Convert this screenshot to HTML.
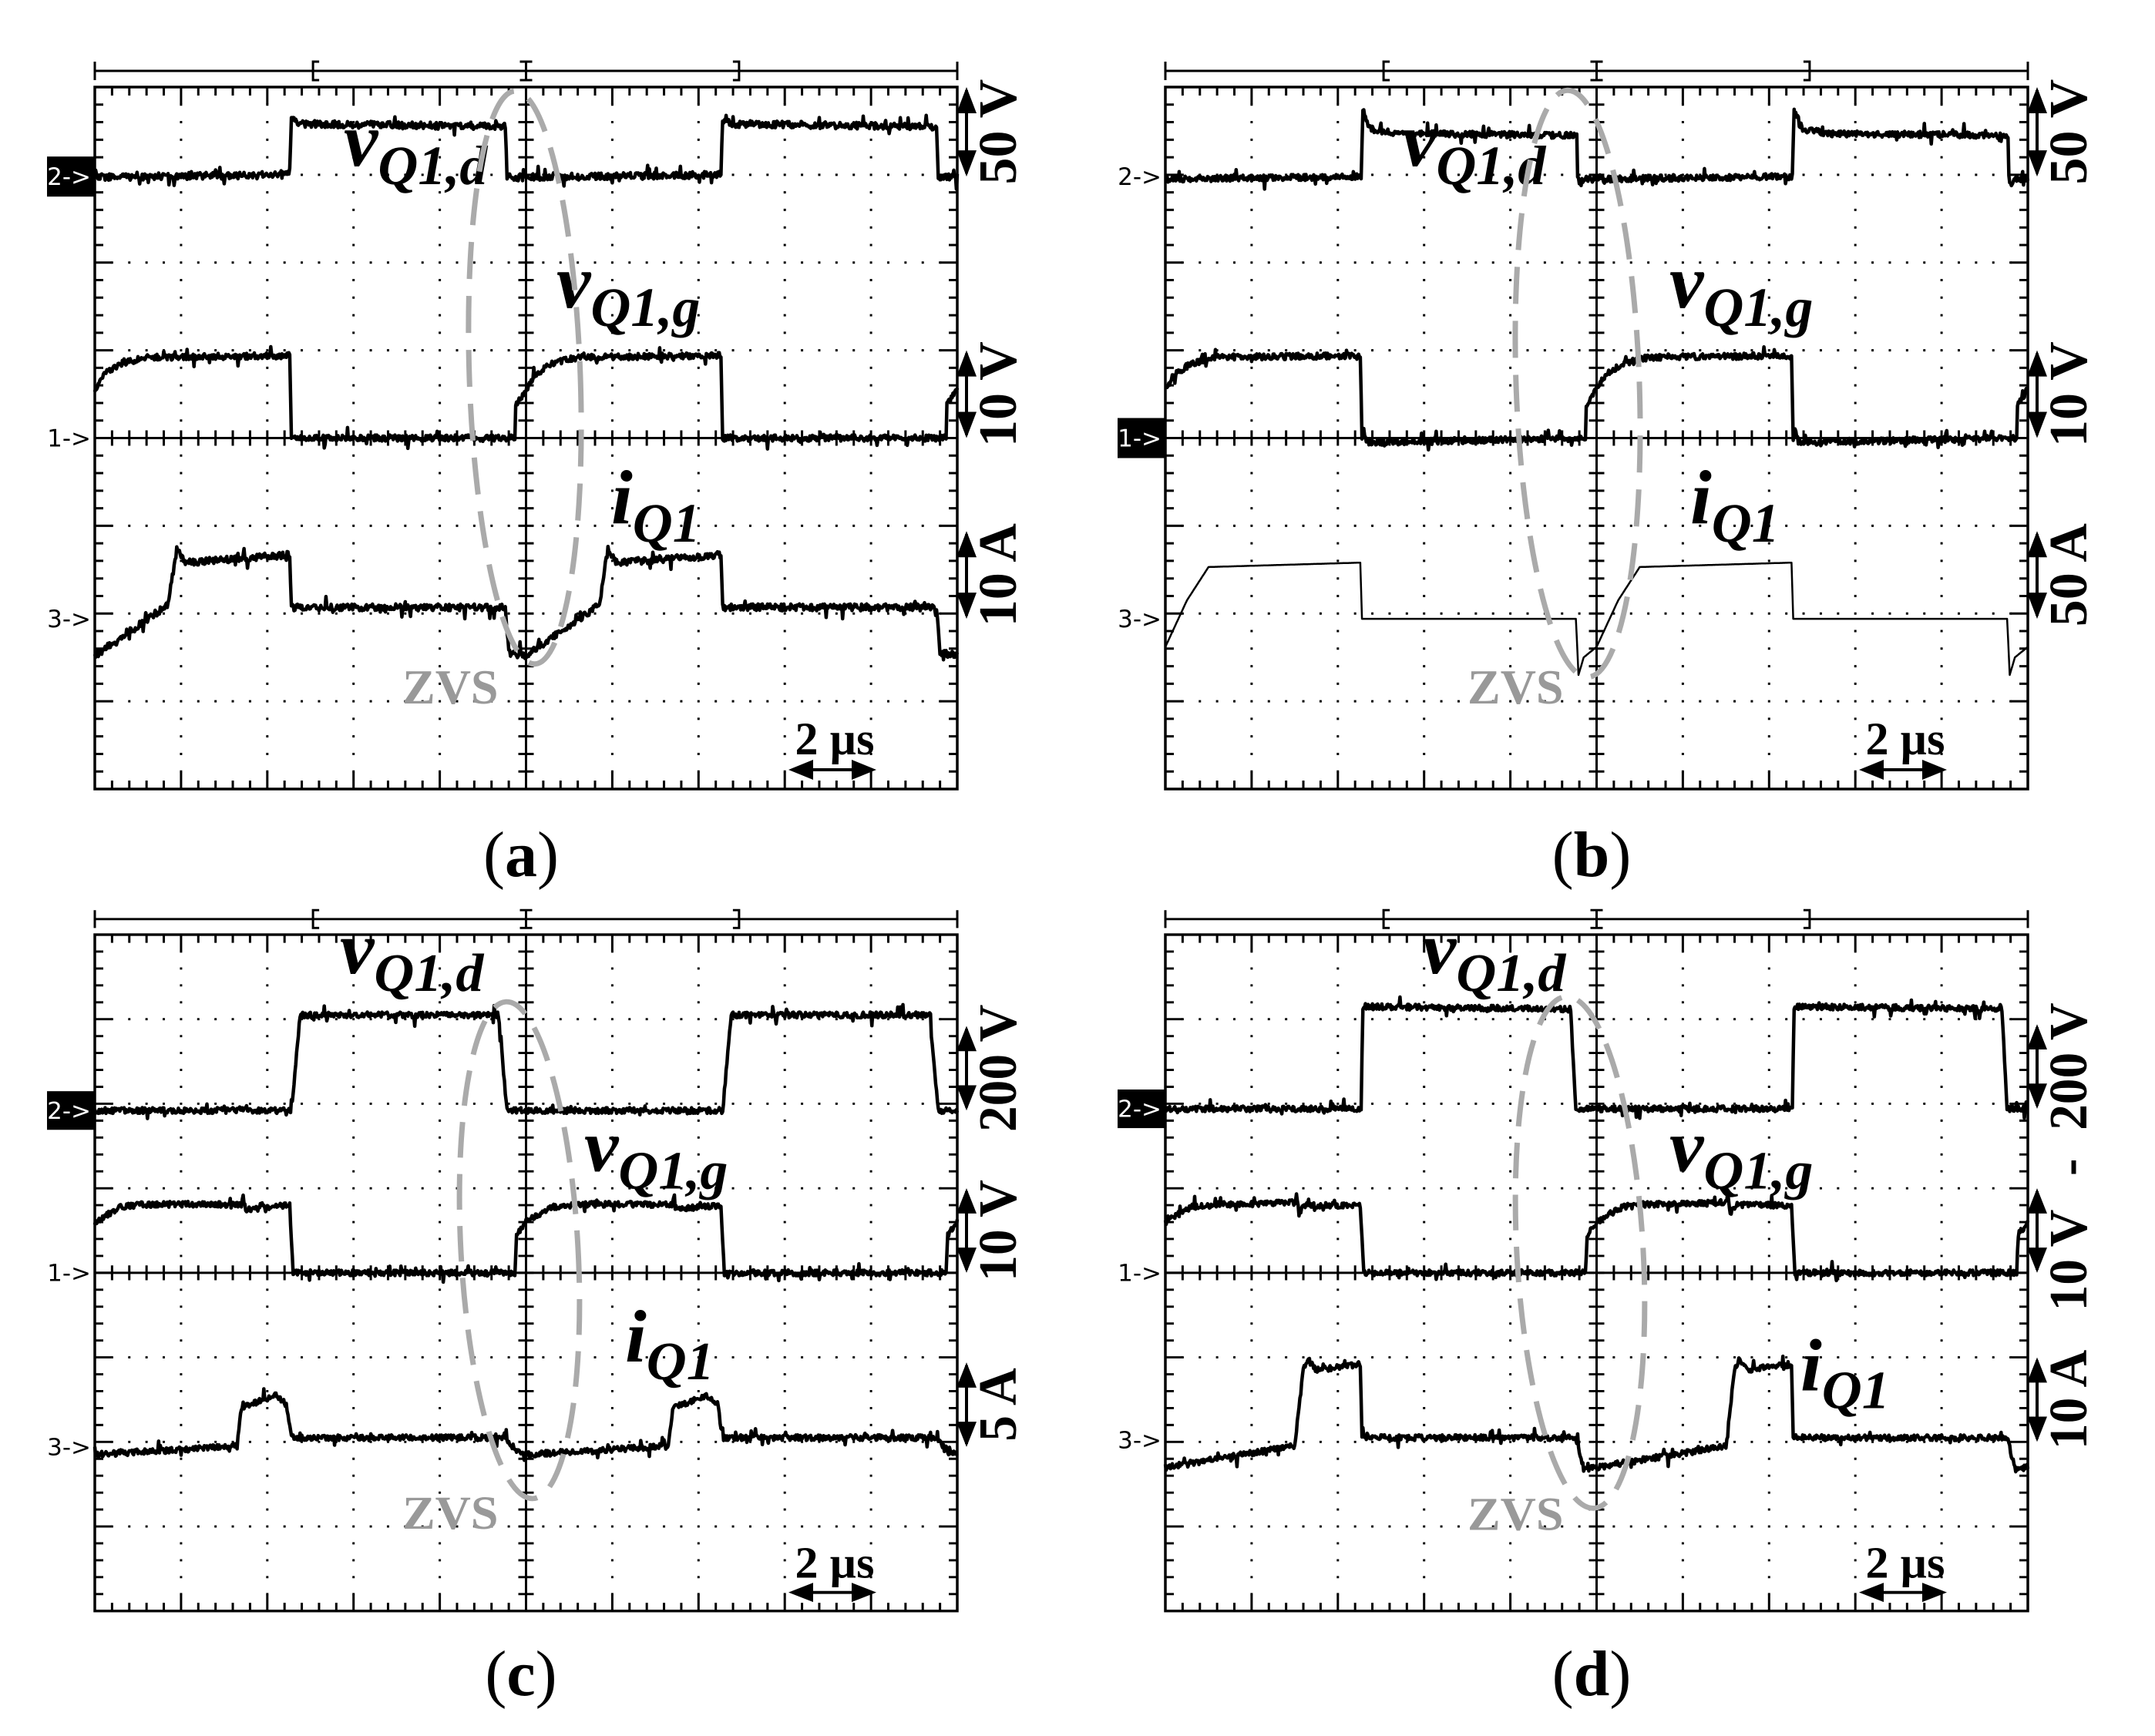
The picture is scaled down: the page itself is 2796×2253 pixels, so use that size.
<!DOCTYPE html>
<html><head><meta charset="utf-8">
<style>
html,body{margin:0;padding:0;background:#fff;}
svg{display:block;}
text{font-family:"Liberation Serif",serif;}
.lab{font-weight:bold;font-style:italic;}
.sc{font-weight:bold;}
.mk{font-family:"DejaVu Sans","Liberation Sans",sans-serif;font-size:31px;}
</style></head>
<body>
<svg id="s" width="2796" height="2253" viewBox="0 0 2796 2253" xmlns="http://www.w3.org/2000/svg">
<text x="676" y="1137" font-size="84" text-anchor="middle">(<tspan font-weight="bold">a</tspan>)</text>
<text x="2065" y="1137" font-size="84" text-anchor="middle">(<tspan font-weight="bold">b</tspan>)</text>
<text x="676" y="2200" font-size="84" text-anchor="middle">(<tspan font-weight="bold">c</tspan>)</text>
<text x="2065" y="2200" font-size="84" text-anchor="middle">(<tspan font-weight="bold">d</tspan>)</text>
</svg>
<script>
(function(){
var NS="http://www.w3.org/2000/svg";
var S=document.getElementById('s');
var W=1119,H=911,DX=W/10,DY=H/8;
var seed=12345;function rnd(){seed=(seed*16807)%2147483647;return seed/2147483647;}
function el(p,tag,attrs,txt){var e=document.createElementNS(NS,tag);for(var k in attrs)e.setAttribute(k,attrs[k]);if(txt!=null)e.textContent=txt;p.appendChild(e);return e;}
function grid(g){
  var d="";
  el(g,'rect',{x:0,y:0,width:W,height:H,fill:'none',stroke:'#000','stroke-width':3.5});
  el(g,'line',{x1:W/2,y1:0,x2:W/2,y2:H,stroke:'#000','stroke-width':3});
  el(g,'line',{x1:0,y1:H/2,x2:W,y2:H/2,stroke:'#000','stroke-width':3});
  for(var i=1;i<50;i++){var x=i*DX/5,L=(i%5==0)?22:11;
    d+="M"+x+" 0v"+L+"M"+x+" "+H+"v"+(-L)+"M"+x+" "+(H/2-10)+"v20";}
  for(var j=1;j<40;j++){var y=j*DY/5,L2=(j%5==0)?22:11;
    d+="M0 "+y+"h"+L2+"M"+W+" "+y+"h"+(-L2)+"M"+(W/2-10)+" "+y+"h20";}
  el(g,'path',{d:d,stroke:'#000','stroke-width':3,fill:'none'});
  var dd="";
  for(var i2=1;i2<10;i2++){if(i2==5)continue;var x2=i2*DX;for(var j2=1;j2<40;j2++){dd+="M"+(x2-1.5)+" "+(j2*DY/5-1.5)+"h3v3h-3z";}}
  for(var j3=1;j3<8;j3++){if(j3==4)continue;var y3=j3*DY;for(var i3=1;i3<50;i3++){dd+="M"+(i3*DX/5-1.5)+" "+(y3-1.5)+"h3v3h-3z";}}
  el(g,'path',{d:dd,fill:'#000'});
  var r="M0 -21H"+W+"M0 -33v24M"+W+" -33v24M"+(W/2)+" -33v24M"+(W/2-8)+" -33h16M"+(W/2-8)+" -9h16";
  var b1=2.53*DX,b2=7.47*DX;
  r+="M"+(b1+8)+" -33h-8v24h8M"+(b2-8)+" -33h8v24h-8";
  el(g,'path',{d:r,stroke:'#000','stroke-width':3,fill:'none'});
}
function interp(pts,x){
  if(x<=pts[0][0])return pts[0][1];
  for(var i=1;i<pts.length;i++){if(x<=pts[i][0]){var a=pts[i-1],b=pts[i];var t=(x-a[0])/((b[0]-a[0])||1e-9);return a[1]+(b[1]-a[1])*t;}}
  return pts[pts.length-1][1];
}
function trace(g,half,noise,sw){
  var pts=[];[-5,0,5,10].forEach(function(o){half.forEach(function(p){pts.push([p[0]+o,p[1]]);});});
  pts.sort(function(a,b){return a[0]-b[0];});
  var d="",step=0.01;
  for(var x=0;x<=10.0001;x+=step){
    var y=interp(pts,x)*DY;
    var n=noise?(rnd()-0.5)*noise+((rnd()<0.05)?(rnd()-0.5)*noise*3:0):0;
    d+=(d?"L":"M")+(x*DX).toFixed(1)+" "+(y+n).toFixed(1);
  }
  el(g,'path',{d:d,stroke:'#000','stroke-width':sw||4.5,fill:'none','stroke-linejoin':'round'});
}
function marker(g,y,label,hi){
  if(hi){el(g,'rect',{x:-62,y:y-26,width:62,height:52,fill:'#000'});}
  el(g,'text',{x:-5,y:y+11,'text-anchor':'end','class':'mk',fill:hi?'#fff':'#000'},label);
}
function vlabel(g,x,base,main,sub){
  var t=el(g,'text',{x:x,y:base,'class':'lab','font-size':100});
  el(t,'tspan',{},main);
  el(t,'tspan',{dy:24,'font-size':72},sub);
}
function scale(g,y1,y2,txt,ty){
  var x=W+12;
  el(g,'path',{d:"M"+x+" "+(y1+4)+"V"+(y2-4),stroke:'#000','stroke-width':4});
  el(g,'path',{d:"M"+x+" "+y1+"l-13 34h26z M"+x+" "+y2+"l-13 -34h26z",fill:'#000'});
  var cy=ty!=null?ty:(y1+y2)/2;
  el(g,'text',{x:0,y:0,'class':'sc','font-size':70,'text-anchor':'middle',transform:"translate("+(W+76)+","+cy+") rotate(-90)"},txt);
}
function common(g){
  el(g,'text',{x:960,y:866,'class':'sc','font-size':60,'text-anchor':'middle'},"2 µs");
  el(g,'path',{d:"M910 886H1004",stroke:'#000','stroke-width':4});
  el(g,'path',{d:"M900 886l32 -13v26zM1014 886l-32 -13v26z",fill:'#000'});
}
function zvs(g,cx,cy,rx,ry,rot,zx,zy){
  el(g,'ellipse',{cx:cx,cy:cy,rx:rx,ry:ry,fill:'none',stroke:'#aaa','stroke-width':7,'stroke-dasharray':'48 22',transform:"rotate("+rot+" "+cx+" "+cy+")"});
  el(g,'text',{x:zx,y:zy,'class':'sc','font-size':64,fill:'#999'},"ZVS");
}
var panels=[[123,113,1],[1512,113,1],[123,1213,0.9635],[1512,1213,0.9635]];
var G=panels.map(function(p){var g=el(S,'g',{transform:"translate("+p[0]+","+p[1]+") scale(1,"+p[2]+")"});grid(g);return g;});
(function(g){
  trace(g,[[-0.2,1.03],[2.26,1.0],[2.28,0.38],[2.32,0.36],[2.38,0.42],[4.76,0.45],[4.78,1.05]],9);
  trace(g,[[-0.13,4.0],[-0.12,3.62],[0,3.45],[0.1,3.28],[0.3,3.15],[0.6,3.08],[2.26,3.06],[2.28,4.0],[4.85,4.0]],8);
  trace(g,[[-0.2,6.45],[0,6.48],[0.85,5.9],[0.95,5.26],[1.05,5.42],[2.26,5.33],[2.28,5.93],[4.76,5.93]],9);
  marker(g,1.02*DY,"2->",true);marker(g,4*DY,"1->",false);marker(g,6.06*DY,"3->",false);
  vlabel(g,323,102,"v","Q1,d");vlabel(g,599,286,"v","Q1,g");vlabel(g,670,566,"i","Q1");
  scale(g,0,1.02*DY,"50 V");scale(g,3*DY,4*DY,"10 V");scale(g,5.06*DY,6.06*DY,"10 A");
  common(g);zvs(g,558,377,72,372,-2,399,800);
})(G[0]);
(function(g){
  trace(g,[[-0.2,1.12],[-0.15,1.05],[2.27,1.02],[2.29,0.25],[2.33,0.4],[2.4,0.48],[2.7,0.53],[4.77,0.55],[4.78,1.02]],8);
  trace(g,[[-0.13,4.0],[-0.12,3.62],[0,3.45],[0.1,3.28],[0.3,3.15],[0.6,3.08],[2.26,3.06],[2.28,4.0],[2.3,3.9],[2.34,4.05],[4.85,4.0]],8);
  trace(g,[[-0.21,6.7],[-0.15,6.5],[0,6.38],[0.25,5.85],[0.5,5.47],[2.26,5.42],[2.28,6.06],[4.76,6.06]],0,2.5);
  marker(g,1.02*DY,"2->",false);marker(g,4*DY,"1->",true);marker(g,6.06*DY,"3->",false);
  vlabel(g,307,102,"v","Q1,d");vlabel(g,654,286,"v","Q1,g");vlabel(g,681,566,"i","Q1");
  scale(g,0,1.02*DY,"50 V");scale(g,3*DY,4*DY,"10 V");scale(g,5.06*DY,6.06*DY,"50 A");
  common(g);zvs(g,535,385,80,381,-2,392,800);
})(G[1]);
(function(g){
  trace(g,[[-0.2,2.08],[2.28,2.08],[2.38,0.95],[4.68,0.95],[4.78,2.08]],8);
  trace(g,[[-0.11,3.55],[0,3.4],[0.3,3.22],[0.6,3.19],[1.7,3.19],[1.72,3.1],[1.75,3.25],[2.26,3.2],[2.3,4.0],[4.87,4.0]],8);
  trace(g,[[-0.1,6.12],[0,6.15],[1.65,6.05],[1.7,5.6],[2.1,5.45],[2.22,5.55],[2.28,5.95],[4.76,5.95]],8);
  marker(g,2.08*DY,"2->",true);marker(g,4*DY,"1->",false);marker(g,6.06*DY,"3->",false);
  vlabel(g,318,52,"v","Q1,d");vlabel(g,635,318,"v","Q1,g");vlabel(g,688,575,"i","Q1");
  scale(g,1.08*DY,2.08*DY,"200 V");scale(g,3*DY,4*DY,"10 V");scale(g,5.06*DY,6.06*DY,"5 A");
  common(g);zvs(g,551,425,76,335,-3,399,800);
})(G[2]);
(function(g){
  trace(g,[[-0.2,2.06],[2.27,2.06],[2.29,0.85],[4.7,0.88],[4.76,2.06]],8);
  trace(g,[[-0.11,3.55],[0,3.4],[0.3,3.22],[0.6,3.19],[1.5,3.17],[1.52,3.05],[1.55,3.3],[1.6,3.2],[2.26,3.2],[2.3,4.0],[4.87,4.0]],8);
  trace(g,[[-0.15,6.32],[0,6.3],[1.5,6.05],[1.6,5.15],[1.65,5.02],[1.75,5.15],[2.26,5.08],[2.28,5.95],[4.76,5.95]],8);
  marker(g,2.06*DY,"2->",true);marker(g,4*DY,"1->",false);marker(g,5.98*DY,"3->",false);
  vlabel(g,333,52,"v","Q1,d");vlabel(g,654,318,"v","Q1,g");vlabel(g,824,614,"i","Q1");
  scale(g,1.06*DY,2.06*DY,"200 V");scale(g,3*DY,4*DY,"10 V",3.5*DY+40);scale(g,5*DY,6*DY,"10 A");
  el(g,'text',{x:0,y:0,'class':'sc','font-size':70,'text-anchor':'middle',transform:"translate("+(W+76)+","+(2.75*DY)+") rotate(-90)"},"-");
  common(g);zvs(g,538,428,82,345,-3,392,802);
})(G[3]);
})();
</script>
</body></html>
